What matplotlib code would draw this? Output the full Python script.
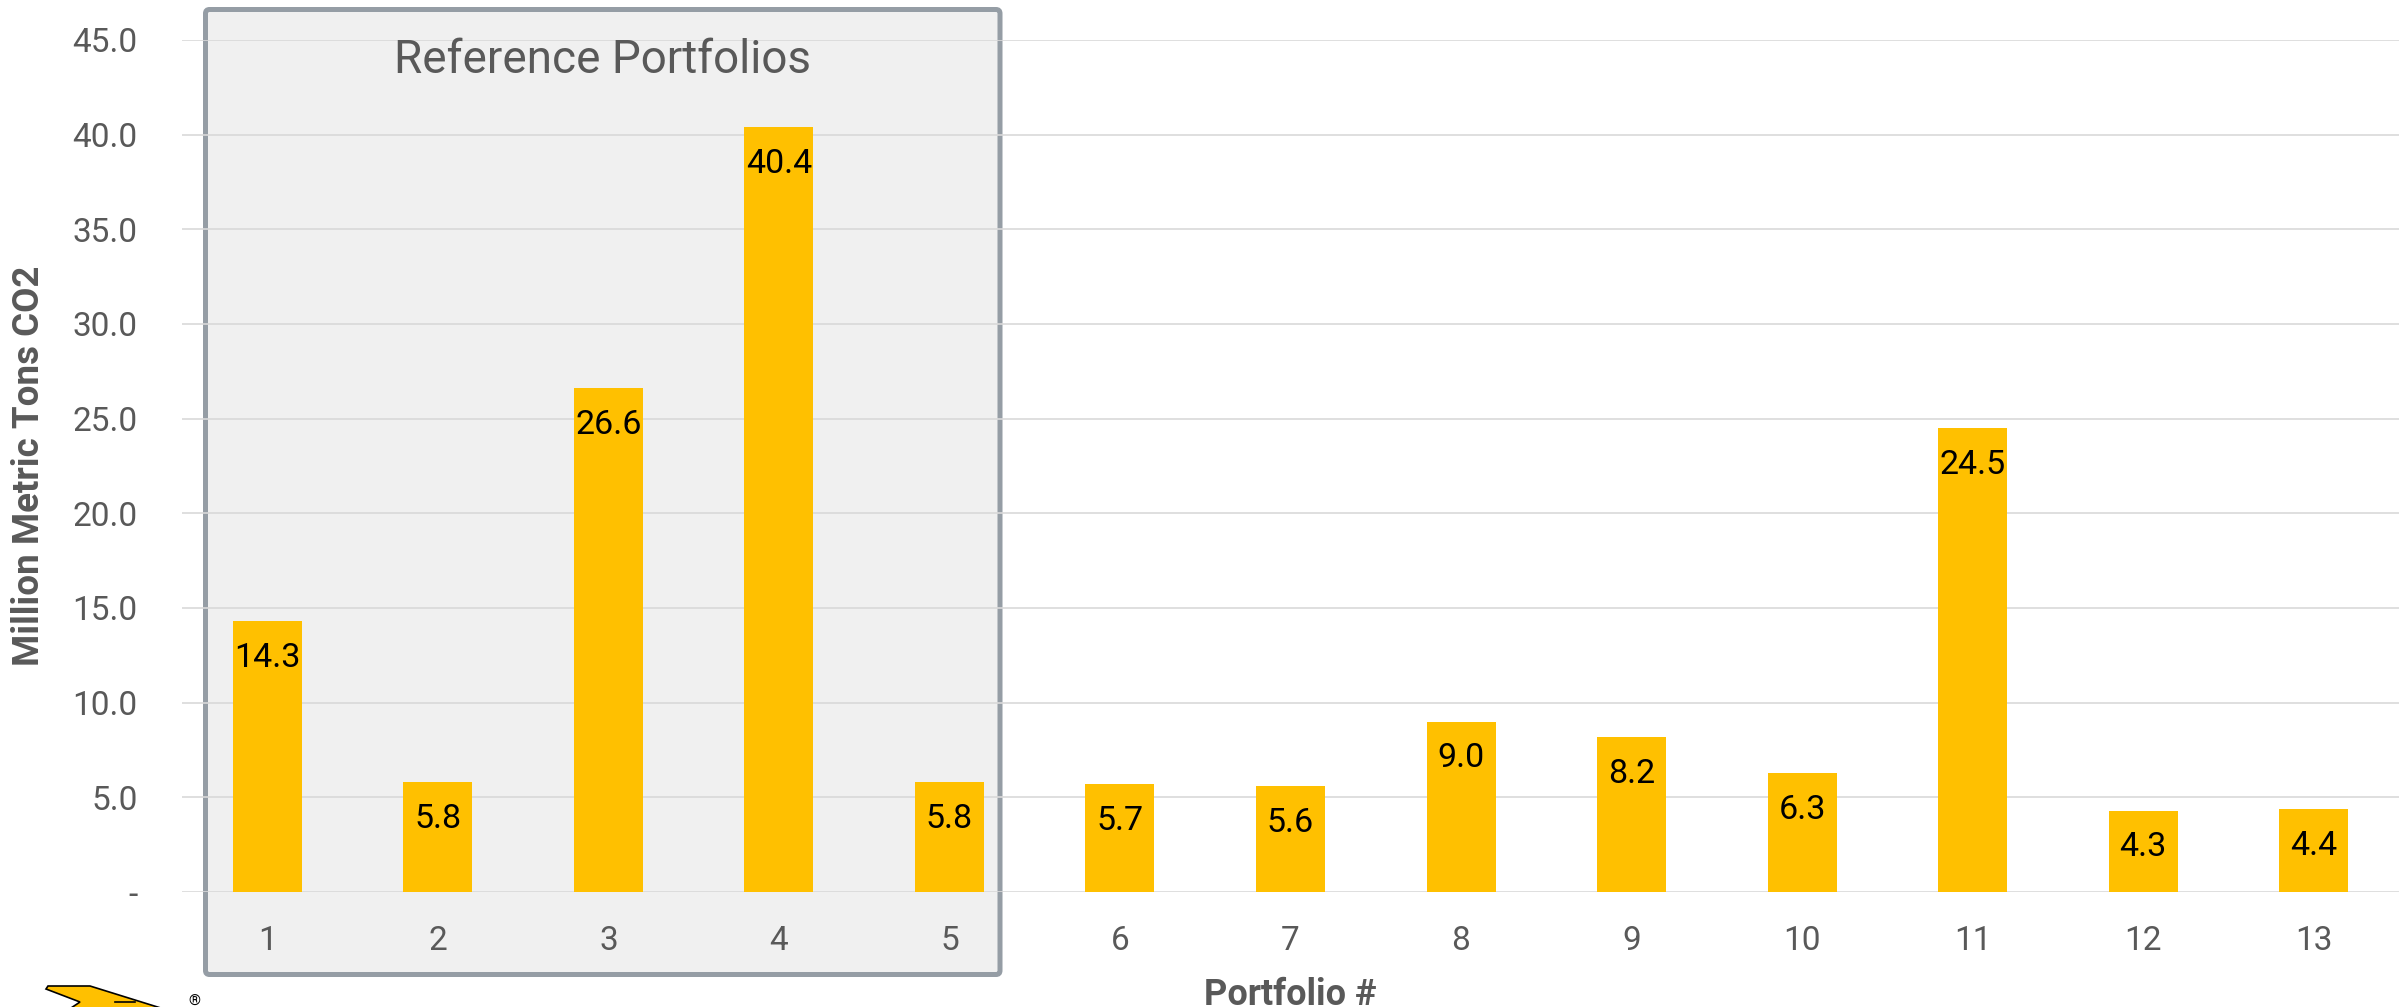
import numpy as np
import matplotlib
matplotlib.use("Agg")
import matplotlib.pyplot as plt
from matplotlib.patches import FancyBboxPatch, Polygon
from matplotlib.lines import Line2D
from matplotlib.transforms import IdentityTransform

portfolios = [str(i) for i in range(1, 14)]
emissions = [14.3, 5.8, 26.6, 40.4, 5.8, 5.7, 5.6, 9.0, 8.2, 6.3, 24.5, 4.3, 4.4]
y_ticks = [0, 5, 10, 15, 20, 25, 30, 35, 40, 45]
y_tick_labels = ["-"] + [f"{t:.1f}" for t in y_ticks[1:]]

plt.rcParams["font.family"] = ["Roboto", "DejaVu Sans"]
gold = "#FFC000"
grey_text = "#595959"

W, H = 2399, 1007
fig = plt.figure(figsize=(W / 100, H / 100), dpi=100)
fig.patch.set_facecolor("white")

ax = fig.add_axes([182 / W, 1 - 892 / H, (W - 182) / W, (892 - 40) / H])
ax.set_facecolor("none")

x = np.arange(1, len(portfolios) + 1)
ax.bar(x, emissions, width=0.405, color=gold, zorder=2)

for xi, v in zip(x, emissions):
    ax.annotate(f"{v:.1f}", (xi, v), xytext=(0, -15), textcoords="offset points",
                ha="center", va="top", fontsize=24.5, color="black", zorder=3)

ax.set_xlim(0.5, len(portfolios) + 0.5)
ax.set_ylim(0, 45)
ax.set_xticks(x)
ax.set_xticklabels(portfolios)
ax.set_yticks(y_ticks)
ax.set_yticklabels(y_tick_labels)
ax.tick_params(axis="both", length=0, labelsize=24, labelcolor=grey_text)
ax.tick_params(axis="y", pad=32)
ax.tick_params(axis="x", pad=24)

ax.grid(axis="y", color="#D9D9D9", linewidth=1.2, zorder=1)
ax.set_axisbelow(True)
for s in ax.spines.values():
    s.set_visible(False)

ax.set_xlabel("Portfolio #", fontsize=26, fontweight="bold", color=grey_text, labelpad=14)
ax.set_ylabel("Million Metric Tons CO2", fontsize=26.5, fontweight="bold", color=grey_text, labelpad=18)

# shaded box behind the reference portfolios (pixel coords, origin bottom-left)
box = FancyBboxPatch((205.5, H - 974.5), 794.5, 965,
                     boxstyle="round,pad=0,rounding_size=4",
                     transform=IdentityTransform(),
                     facecolor="#F0F0F0", edgecolor="#959DA5", linewidth=3.6, zorder=-1)
fig.patches.append(box)
fig.text(602 / W, 1 - 60 / H, "Reference Portfolios", ha="center", va="center",
         fontsize=33, color=grey_text)

# logo bolt, partly cut off at the bottom edge
bolt = [(48, 986), (90, 986), (180, 1014), (62, 1014), (80, 1002), (46, 989)]
fig.patches.append(Polygon([(px / W, 1 - py / H) for px, py in bolt], closed=True,
                           transform=fig.transFigure, facecolor=gold,
                           edgecolor="black", linewidth=1.2, zorder=5))
fig.lines.append(Line2D([115 / W, 135 / W], [1 - 1002 / H, 1 - 1002 / H],
                        transform=fig.transFigure, color="black", linewidth=1.2, zorder=6))
fig.text(194 / W, 1 - 1002 / H, "®", ha="center", va="center", fontsize=11, color="black")

fig.savefig("out.png", dpi=100)
